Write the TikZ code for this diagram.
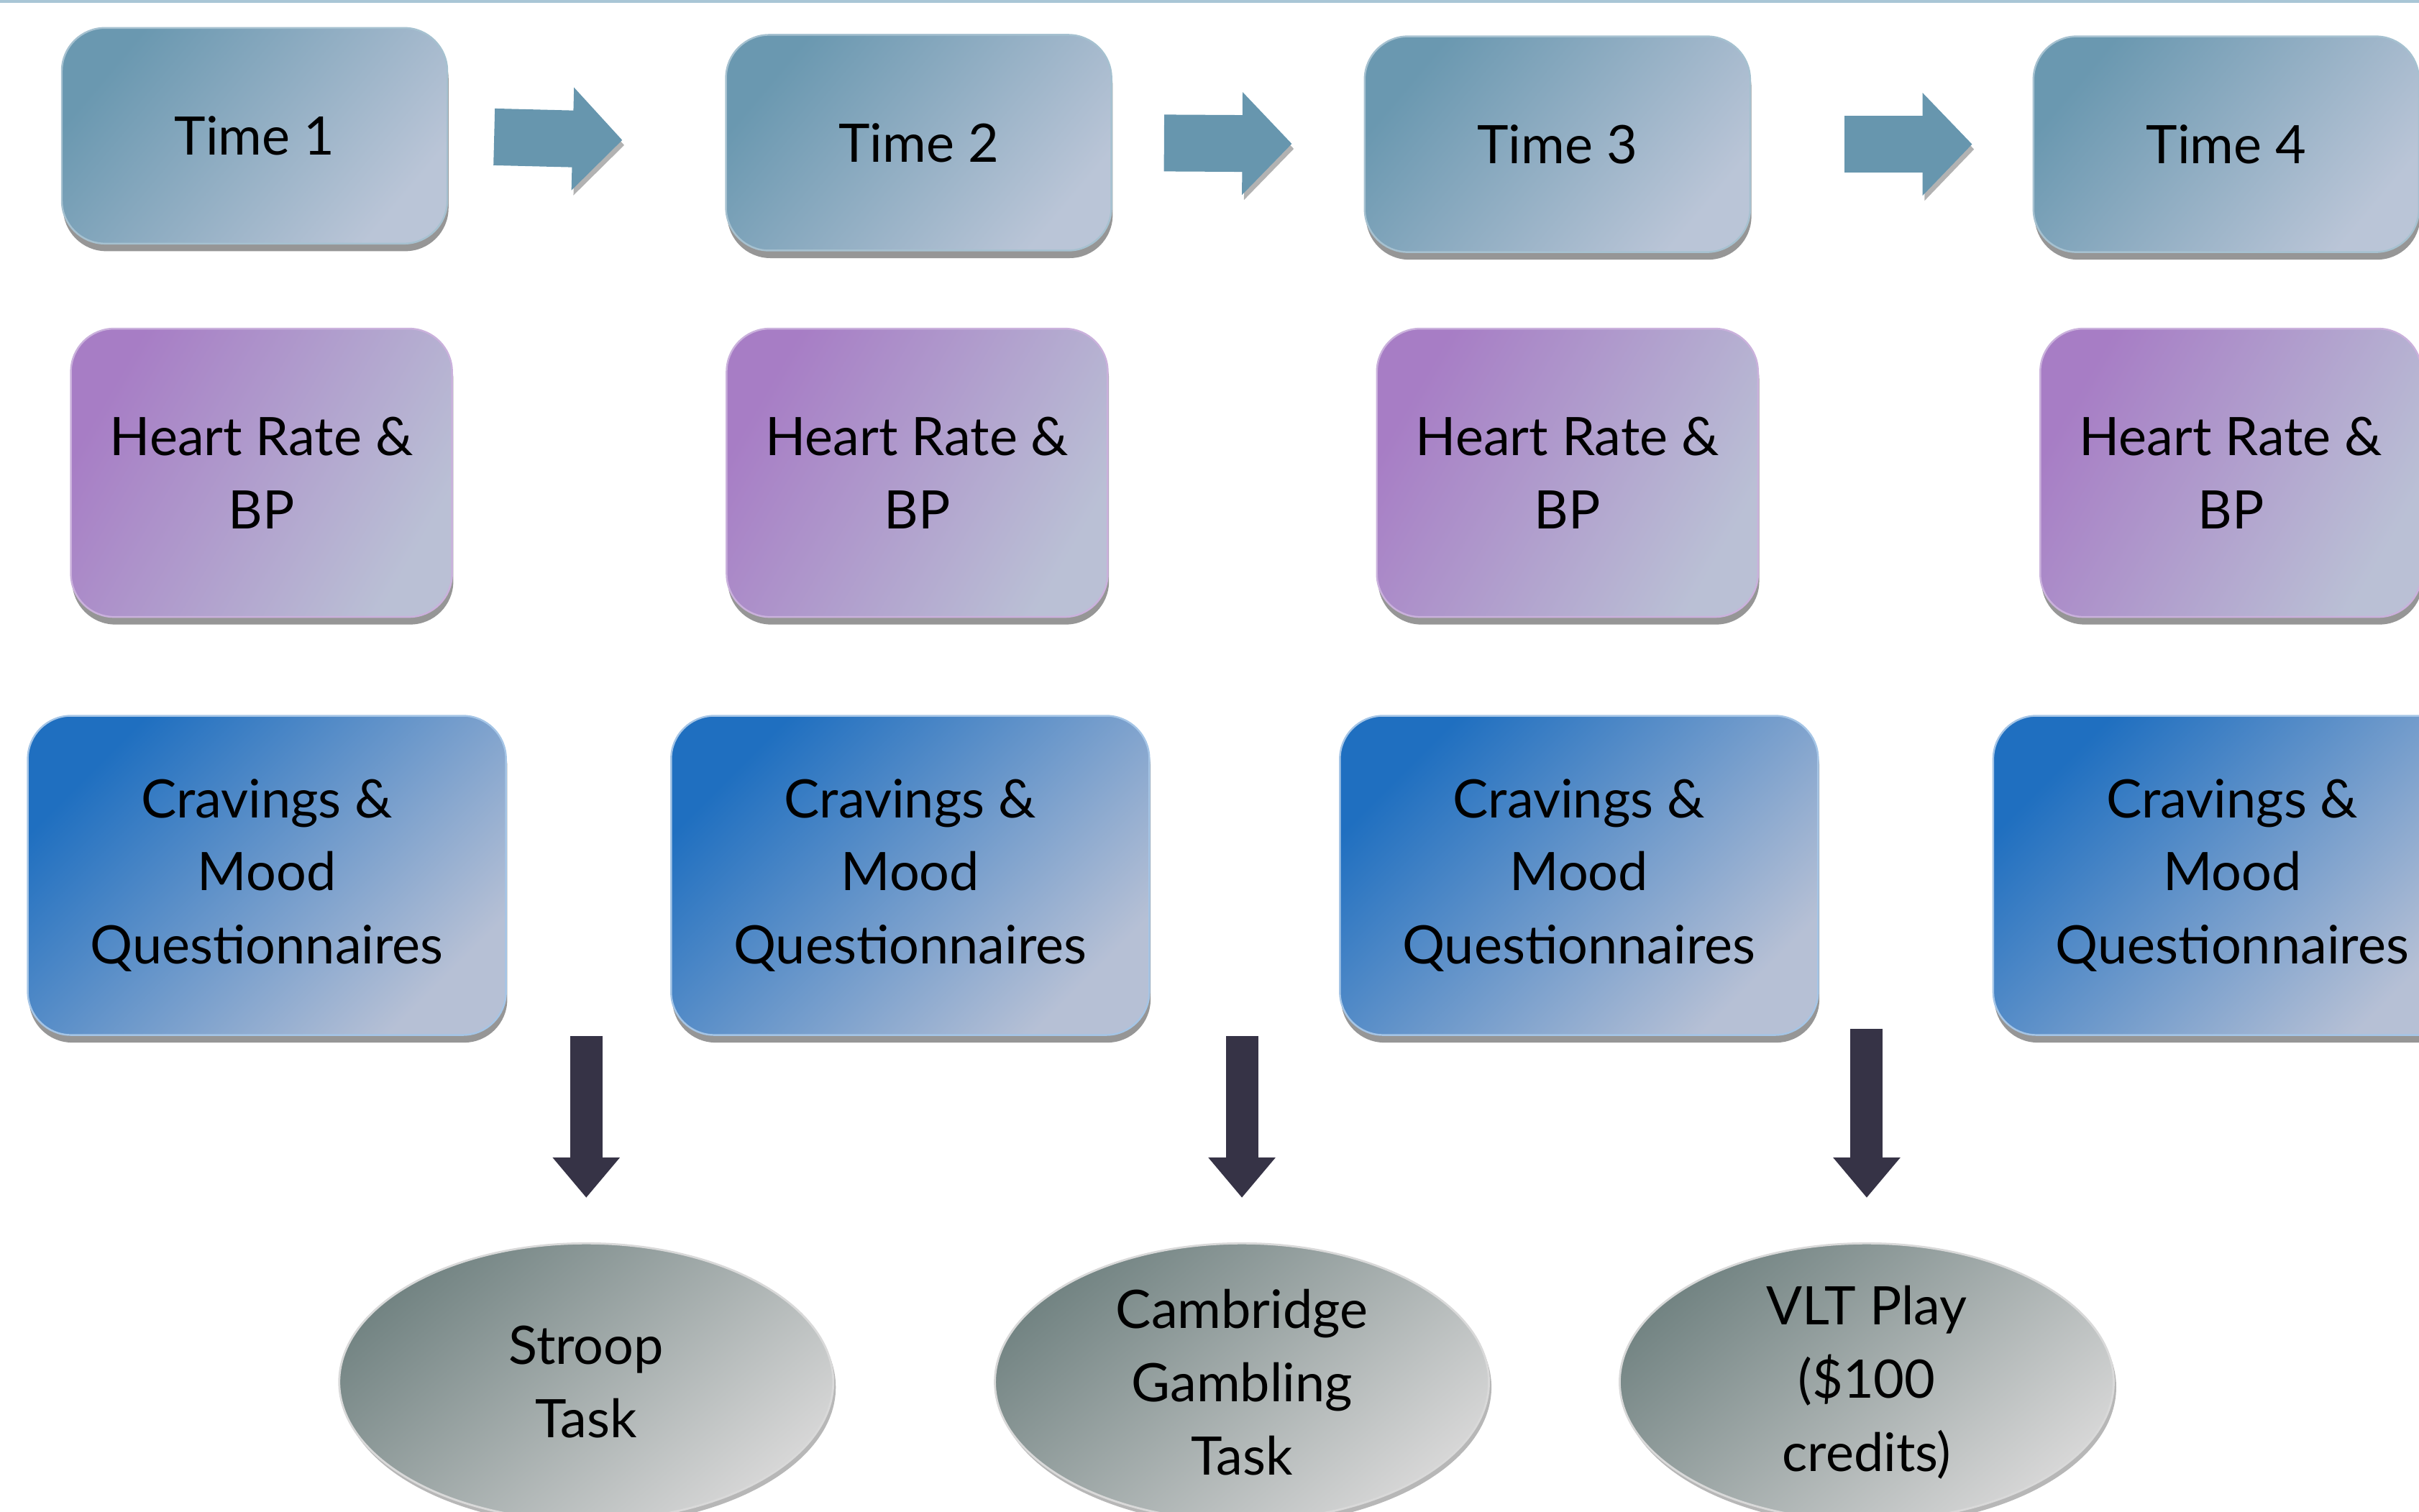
\documentclass[tikz,border=0pt]{standalone}
\usepackage{fontspec}
\setmainfont{Lato}
\usetikzlibrary{arrows.meta,positioning,shapes.geometric,shadows}
\definecolor{tmdark}{HTML}{6A98B0}
\definecolor{tmlight}{HTML}{BAC5D7}
\definecolor{hrdark}{HTML}{A77DC5}
\definecolor{hrlight}{HTML}{BAC0D5}
\definecolor{cqdark}{HTML}{1F6FC0}
\definecolor{cqlight}{HTML}{B6C0D5}
\definecolor{eldark}{HTML}{738483}
\definecolor{ellight}{HTML}{D6D6D6}
\definecolor{flowcol}{HTML}{6796AE}
\definecolor{downcol}{HTML}{363346}
\definecolor{rulecol}{HTML}{A9C6D6}

\begin{document}
\begin{tikzpicture}[x=0.021454cm,y=-0.021454cm,
  font=\fontsize{21}{29}\selectfont,
  card/.style={align=center,rounded corners=0.6cm,
    line width=0.7pt,inner sep=4pt,
    drop shadow={shadow xshift=0.5pt,shadow yshift=-3pt,opacity=0.55,fill=black!75}},
  timebox/.style={card,draw=tmdark!60!white,top color=tmdark,bottom color=tmlight,
    shading angle=50,minimum width=5.36cm,minimum height=3.0cm},
  hrbox/.style={card,draw=hrdark!60!white,top color=hrdark,bottom color=hrlight,
    shading angle=60,minimum width=5.30cm,minimum height=4.01cm},
  cqbox/.style={card,draw=cqdark!40!white,top color=cqdark,bottom color=cqlight,
    shading angle=45,minimum width=6.65cm,minimum height=4.44cm},
  taskel/.style={ellipse,align=center,top color=eldark,bottom color=ellight,
    shading angle=40,draw=white!70!gray,line width=0.8pt,
    inner sep=0pt,inner ysep=-0.2cm,minimum width=6.87cm,minimum height=3.86cm,
    drop shadow={shadow xshift=1pt,shadow yshift=-2pt,opacity=0.4,fill=black!70}},
  flowarr/.style={draw=flowcol,line width=0.79cm,
    -{Triangle[length=0.69cm,width=1.39cm]},
    preaction={draw=black!30,transform canvas={shift={(0.8pt,-2pt)}}}},
  downarr/.style={draw=downcol,line width=0.45cm,
    -{Triangle[length=0.56cm,width=0.90cm]},shorten >=0.62cm}]
\useasboundingbox (0,0) rectangle (1568,980);
\draw[rulecol,line width=1.2pt] (0,1) -- (1568,1);

% time points
\node[timebox] (t1) at (165,88) {Time 1};
\node[timebox] (t2) at (595.5,92.5) {Time 2};
\node[timebox] (t3) at (1009.5,93.5) {Time 3};
\node[timebox] (t4) at (1443,93.5) {Time 4};

% measures at each time point
\node[hrbox] (hr1) at (169.5,306.5) {Heart Rate \&\\BP};
\node[hrbox] (hr2) at (594.5,306.5) {Heart Rate \&\\BP};
\node[hrbox] (hr3) at (1016,306.5) {Heart Rate \&\\BP};
\node[hrbox] (hr4) at (1446,306.5) {Heart Rate \&\\BP};
\node[cqbox] (cq1) at (173,567.5) {Cravings \&\\Mood\\Questionnaires};
\node[cqbox] (cq2) at (590,567.5) {Cravings \&\\Mood\\Questionnaires};
\node[cqbox] (cq3) at (1023.5,567.5) {Cravings \&\\Mood\\Questionnaires};
\node[cqbox] (cq4) at (1447,567.5) {Cravings \&\\Mood\\Questionnaires};

% tasks
\node[taskel] (task1) at (380,896) {Stroop\\Task};
\node[taskel] (task2) at (805,896) {Cambridge\\Gambling\\Task};
\node[taskel] (task3) at (1210,896) {VLT Play\\(\$100\\credits)};

\draw[flowarr,shorten <=0.64cm,shorten >=1.43cm] (t1.east) -- (t2.west);
\draw[flowarr,shorten <=0.72cm,shorten >=1.0cm] (t2.east) -- (t3.west);
\draw[flowarr,shorten <=1.30cm,shorten >=0.84cm] (t3.east) -- (t4.west);

\draw[downarr] (task1.north |- cq1.south) -- (task1.north);
\draw[downarr] (task2.north |- cq2.south) -- (task2.north);
\draw[downarr,shorten <=-0.1cm] (task3.north |- cq3.south) -- (task3.north);
\end{tikzpicture}
\end{document}
